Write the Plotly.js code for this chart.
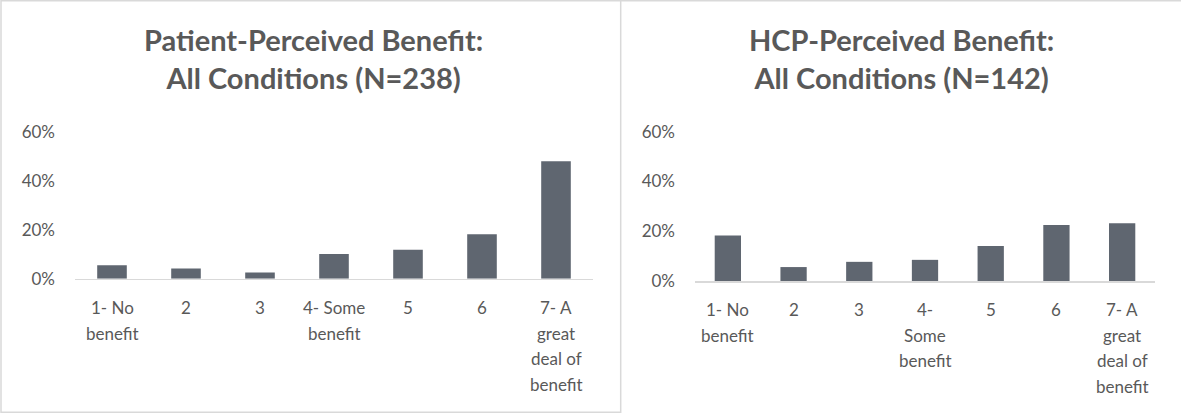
<!DOCTYPE html>
<html>
<head>
<meta charset="utf-8">
<script src="https://cdn.plot.ly/plotly-3.0.1.min.js"></script>
<style>
  html, body { margin: 0; padding: 0; background: #ffffff; }
  #chart { width: 1181px; height: 415px; }
</style>
</head>
<body>
<div id="chart"></div>
<script>
// Benefit scale (1 = no benefit ... 7 = a great deal of benefit)
const levels = [1, 2, 3, 4, 5, 6, 7];

// Category labels, one entry per level, wrapped line by line
const patientLabels = [["1- No", "benefit"], ["2"], ["3"], ["4- Some", "benefit"], ["5"], ["6"],
                       ["7- A", "great", "deal of", "benefit"]];
const hcpLabels = [["1- No", "benefit"], ["2"], ["3"], ["4-", "Some", "benefit"], ["5"], ["6"],
                   ["7- A", "great", "deal of", "benefit"]];

// Share of respondents (%) choosing each level
const patientPct = [5.5, 4.2, 2.5, 10.1, 11.8, 18.1, 47.9];
const hcpPct = [18.3, 5.6, 7.7, 8.5, 14.1, 22.5, 23.2];

const yTicks = [0, 20, 40, 60];
const yTickText = ["0%", "20%", "40%", "60%"];

const patientTitle = "Patient-Perceived Benefit:<br>All Conditions (N=238)";
const hcpTitle = "HCP-Perceived Benefit:<br>All Conditions (N=142)";

// ---- styling ----
const W = 1181, H = 415;
const BAR = "#5f6670";
const TEXT = "#595959";
const RULE = "#d9d9d9";
const FONT = "Lato, 'Open Sans', sans-serif";
const LABEL_SIZE = 17;
const LABEL_STEP = 25.6;        // px between wrapped label lines

const px = v => v / W;          // horizontal pixel -> paper
const py = v => 1 - v / H;      // vertical pixel (from top) -> paper

const traces = [
  { type: "bar", x: levels, y: patientPct, xaxis: "x", yaxis: "y",
    marker: { color: BAR }, hoverinfo: "skip" },
  { type: "bar", x: levels, y: hcpPct, xaxis: "x2", yaxis: "y2",
    marker: { color: BAR }, hoverinfo: "skip" }
];

const xCommon = {
  range: [0.5, 7.5], tickmode: "array", tickvals: levels,
  showline: true, linecolor: RULE, linewidth: 1.5,
  showgrid: false, zeroline: false, ticks: "", showticklabels: false,
  fixedrange: true
};
const yCommon = {
  range: [0, 60], tickmode: "array", tickvals: yTicks, ticktext: yTickText,
  showline: false, showgrid: false, zeroline: false, ticks: "",
  ticklabelstandoff: 19,
  tickfont: { family: FONT, size: LABEL_SIZE, color: TEXT }, fixedrange: true
};

// Category labels placed under each bar on the subplot's own x scale
function categoryLabels(labels, xref, firstLineY) {
  const out = [];
  labels.forEach((lines, i) => {
    lines.forEach((line, j) => {
      out.push({
        text: line, xref: xref, yref: "paper",
        x: levels[i], y: py(firstLineY + j * LABEL_STEP),
        xanchor: "center", yanchor: "middle", showarrow: false,
        font: { family: FONT, size: LABEL_SIZE, color: TEXT }
      });
    });
  });
  return out;
}

const titleFont = { family: FONT, size: 29, color: TEXT, weight: "bold" };

const layout = {
  width: W, height: H,
  margin: { l: 0, r: 0, t: 0, b: 0 },
  paper_bgcolor: "#ffffff", plot_bgcolor: "rgba(0,0,0,0)",
  showlegend: false, bargap: 0.6,
  xaxis: Object.assign({}, xCommon, { domain: [px(75), px(593)], anchor: "y" }),
  yaxis: Object.assign({}, yCommon, { domain: [py(278.7), py(131.7)], anchor: "x" }),
  xaxis2: Object.assign({}, xCommon, { domain: [px(695), px(1155)], anchor: "y2" }),
  yaxis2: Object.assign({}, yCommon, { domain: [py(281), py(131.7)], anchor: "x2" }),
  annotations: [
    { text: patientTitle, xref: "paper", yref: "paper", x: px(313), y: py(59),
      xanchor: "center", yanchor: "middle", showarrow: false, font: titleFont },
    { text: hcpTitle, xref: "paper", yref: "paper", x: px(902), y: py(59),
      xanchor: "center", yanchor: "middle", showarrow: false, font: titleFont }
  ].concat(categoryLabels(patientLabels, "x", 307.7), categoryLabels(hcpLabels, "x2", 309.5)),
  shapes: [
    // left panel frame
    { type: "rect", xref: "paper", yref: "paper",
      x0: px(1), x1: px(620.7), y0: py(412.3), y1: py(0.7),
      line: { color: RULE, width: 1.5 } },
    // right panel top edge
    { type: "line", xref: "paper", yref: "paper",
      x0: px(620.7), x1: 1, y0: py(0.7), y1: py(0.7),
      line: { color: RULE, width: 1.5 } }
  ]
};

Plotly.newPlot("chart", traces, layout, { staticPlot: true, displayModeBar: false });
</script>
</body>
</html>
